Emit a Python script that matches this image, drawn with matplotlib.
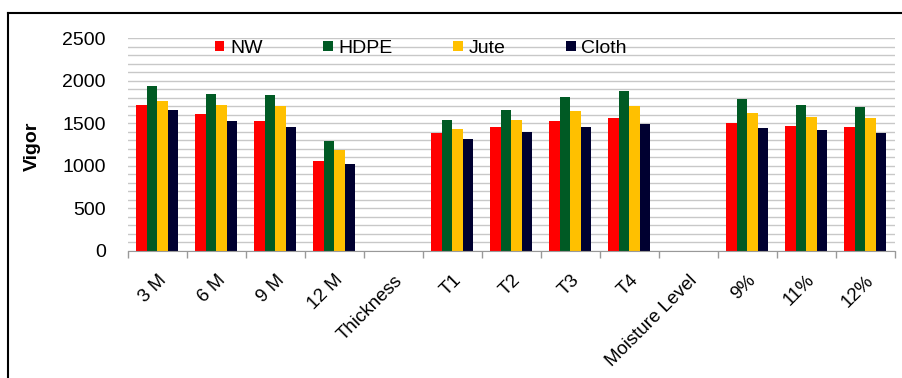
import numpy as np
import matplotlib.pyplot as plt
from matplotlib.lines import Line2D

plt.rcParams['font.family'] = ['Liberation Sans', 'DejaVu Sans']

# categories (empty slots are section headers)
categories = ["3 M", "6 M", "9 M", "12 M", "Thickness", "T1", "T2", "T3", "T4",
              "Moisture Level", "9%", "11%", "12%"]
nan = np.nan
nw    = [1712, 1607, 1524, 1054, nan, 1391, 1457, 1524, 1559, nan, 1504, 1473, 1457]
hdpe  = [1935, 1850, 1830, 1297, nan, 1536, 1662, 1810, 1885, nan, 1783, 1712, 1692]
jute  = [1763, 1712, 1700, 1183, nan, 1434, 1536, 1645, 1700, nan, 1626, 1575, 1559]
cloth = [1662, 1524, 1457, 1027, nan, 1316, 1403, 1457, 1489, nan, 1442, 1418, 1391]

series = [("NW", nw, "#FF0000"), ("HDPE", hdpe, "#005A24"),
          ("Jute", jute, "#FFC000"), ("Cloth", cloth, "#000030")]

fig = plt.figure(figsize=(9.03, 3.78), dpi=100)
ax = fig.add_axes([0.1417, 0.336, 0.8493, 0.563])

x = np.arange(len(categories))
w = 0.178
for i, (name, vals, col) in enumerate(series):
    ax.bar(x + (i - 1.5) * w, vals, width=w, color=col, label=name, zorder=3)

ax.set_xlim(-0.5, len(categories) - 0.5)
ax.set_ylim(0, 2500)
ax.set_yticks(np.arange(0, 2501, 500))
ax.set_yticks(np.arange(0, 2501, 100), minor=True)
ax.tick_params(axis='y', which='both', length=0, labelsize=14, pad=16)
ax.yaxis.grid(True, which='both', color='#c8c8c8', lw=1, zorder=0)

# category boundaries get tick marks, centres get the labels
ax.set_xticks(np.arange(-0.5, len(categories), 1))
ax.set_xticklabels([])
ax.set_xticks(x, minor=True)
ax.set_xticklabels(categories, minor=True, rotation=45, ha='right',
                   rotation_mode='anchor', fontsize=13.5)
ax.tick_params(axis='x', which='major', length=5, color='#999999', width=1)
ax.tick_params(axis='x', which='minor', length=0, pad=15)

for s in ['top', 'right', 'left']:
    ax.spines[s].set_visible(False)
ax.spines['bottom'].set_color('#999999')
ax.spines['bottom'].set_zorder(4)

ax.set_ylabel("Vigor", fontsize=14, fontweight='bold')
ax.yaxis.set_label_coords(-0.113, 0.49)

ax.legend(loc='center left', bbox_to_anchor=(0.103, 0.953), ncol=4, frameon=False,
          fontsize=14, handlelength=0.5, handleheight=0.45, handletextpad=0.3,
          columnspacing=3.1, borderaxespad=0)

# outer frame (top and left edges)
fig.add_artist(Line2D([8 / 903, 1.0], [1 - 13 / 378, 1 - 13 / 378],
                      transform=fig.transFigure, color='black', lw=1.5))
fig.add_artist(Line2D([8 / 903, 8 / 903], [0.0, 1 - 13 / 378],
                      transform=fig.transFigure, color='black', lw=1.5))

fig.savefig("out.png", dpi=100)
